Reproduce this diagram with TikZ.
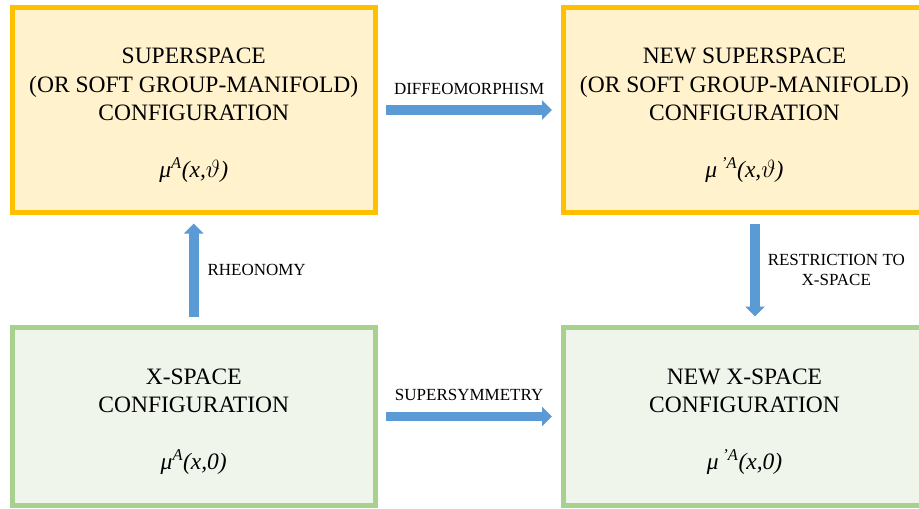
\documentclass[tikz,border=0pt]{standalone}
\usepackage{fontspec}
\setmainfont{Liberation Serif}
\usetikzlibrary{arrows.meta}

\definecolor{superedge}{HTML}{FFC000}
\definecolor{superfill}{HTML}{FFF2CC}
\definecolor{xedge}{HTML}{A9D18E}
\definecolor{xfill}{HTML}{EFF5EB}
\definecolor{arrowblue}{HTML}{5B9BD5}

\newcommand{\topgap}{\rule{0pt}{26pt}}

\begin{document}
\begin{tikzpicture}[
    x=1pt, y=-1pt,
    box/.style={draw, line width=5pt, align=center, minimum width=363pt,
        font=\fontsize{23.5}{28.3}\selectfont},
    superbox/.style={box, draw=superedge, fill=superfill, minimum height=205pt},
    xbox/.style={box, draw=xedge, fill=xfill, minimum height=178pt},
    arrow/.style={-{Triangle[length=10pt, width=19pt]}, line width=9.5pt, draw=arrowblue,
        shorten <=8.5pt, shorten >=8.5pt},
    lab/.style={inner sep=0pt, align=center, font=\fontsize{17}{20}\selectfont},
    ]

\useasboundingbox (0,0) rectangle (919,509);

% Boxes
\node[superbox] (super) at (193.75,110) {\topgap SUPERSPACE\\(OR SOFT GROUP-MANIFOLD)\\CONFIGURATION\\[28.3pt]{\itshape μ\textsuperscript{A}(x,$\vartheta$)}};
\node[superbox] (newsuper) at (744.5,110) {\topgap NEW SUPERSPACE\\(OR SOFT GROUP-MANIFOLD)\\CONFIGURATION\\[28.3pt]{\itshape μ\,\textsuperscript{’A}(x,$\vartheta$)}};
\node[xbox] (xspace) at (193.75,416.5) {\topgap X-SPACE\\CONFIGURATION\\[28.3pt]{\itshape μ\textsuperscript{A}(x,0)}};
\node[xbox] (newx) at (744.5,416.5) {\topgap NEW X-SPACE\\CONFIGURATION\\[28.3pt]{\itshape μ\,\textsuperscript{’A}(x,0)}};

% Arrows
\draw[arrow] (super) -- node[lab, above=11pt] {DIFFEOMORPHISM} (newsuper);
\draw[arrow] (xspace) -- node[lab, above=11pt] {SUPERSYMMETRY} (newx);
\draw[arrow] (xspace) -- node[lab, right=9pt] {RHEONOMY} (super);
\draw[arrow] ([xshift=10.5pt]newsuper.south) -- node[lab, right=8pt] {RESTRICTION TO\\X-SPACE} ([xshift=10.5pt]newx.north);

\end{tikzpicture}
\end{document}
